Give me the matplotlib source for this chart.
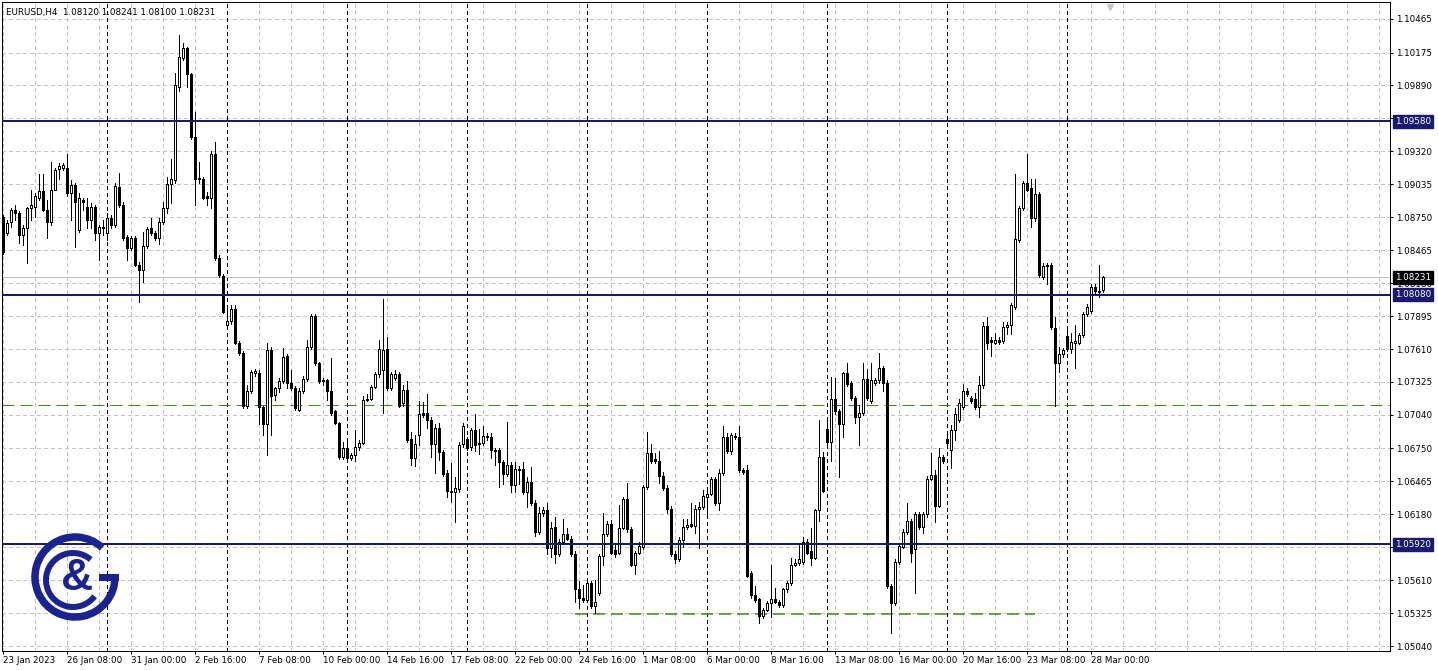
import numpy as np
import pandas as pd
import matplotlib
matplotlib.use("Agg")
import matplotlib.pyplot as plt
from matplotlib.patches import Arc, Rectangle
from matplotlib.transforms import blended_transform_factory

plt.rcParams['font.family'] = ['DejaVu Sans']
plt.rcParams['lines.scale_dashes'] = False

# EURUSD H4 candles (open, high, low, close)
opens = [
    1.0875, 1.0861, 1.0871, 1.0881, 1.0879, 1.0860, 1.0866, 1.0883, 1.0884, 1.0892,
    1.0898, 1.0881, 1.0871, 1.0899, 1.0917, 1.0918, 1.0918, 1.0896, 1.0903, 1.0864,
    1.0890, 1.0884, 1.0873, 1.0884, 1.0861, 1.0867, 1.0861, 1.0874, 1.0868, 1.0901,
    1.0886, 1.0858, 1.0848, 1.0857, 1.0834, 1.0829, 1.0850, 1.0866, 1.0861, 1.0857,
    1.0871, 1.0883, 1.0904, 1.0907, 1.0988, 1.1013, 1.1021, 1.0999, 1.0944, 1.0909,
    1.0908, 1.0893, 1.0892, 1.0930, 1.0840, 1.0824, 1.0782, 1.0785, 1.0796, 1.0766,
    1.0758, 1.0712, 1.0725, 1.0740, 1.0740, 1.0711, 1.0696, 1.0760, 1.0721, 1.0727,
    1.0733, 1.0755, 1.0732, 1.0727, 1.0708, 1.0725, 1.0735, 1.0763, 1.0790, 1.0749,
    1.0734, 1.0734, 1.0725, 1.0707, 1.0697, 1.0668, 1.0675, 1.0667, 1.0669, 1.0676,
    1.0680, 1.0717, 1.0718, 1.0728, 1.0739, 1.0743, 1.0761, 1.0727, 1.0736, 1.0739,
    1.0714, 1.0726, 1.0683, 1.0667, 1.0687, 1.0706, 1.0706, 1.0700, 1.0679, 1.0693,
    1.0672, 1.0654, 1.0638, 1.0637, 1.0640, 1.0679, 1.0683, 1.0676, 1.0691, 1.0680,
    1.0680, 1.0686, 1.0685, 1.0674, 1.0674, 1.0663, 1.0653, 1.0661, 1.0643, 1.0657,
    1.0657, 1.0637, 1.0646, 1.0628, 1.0603, 1.0619, 1.0622, 1.0589, 1.0607, 1.0584,
    1.0594, 1.0601, 1.0597, 1.0584, 1.0553, 1.0546, 1.0544, 1.0559, 1.0539, 1.0550,
    1.0582, 1.0601, 1.0610, 1.0587, 1.0585, 1.0606, 1.0631, 1.0605, 1.0574, 1.0585,
    1.0590, 1.0642, 1.0671, 1.0666, 1.0664, 1.0651, 1.0641, 1.0623, 1.0584, 1.0579,
    1.0596, 1.0607, 1.0610, 1.0608, 1.0623, 1.0624, 1.0633, 1.0636, 1.0649, 1.0628,
    1.0654, 1.0685, 1.0673, 1.0686, 1.0685, 1.0656, 1.0656, 1.0567, 1.0548, 1.0545,
    1.0530, 1.0535, 1.0541, 1.0545, 1.0542, 1.0540, 1.0553, 1.0559, 1.0574, 1.0576,
    1.0577, 1.0594, 1.0586, 1.0580, 1.0622, 1.0668, 1.0692, 1.0681, 1.0718, 1.0707,
    1.0696, 1.0740, 1.0732, 1.0719, 1.0702, 1.0706, 1.0735, 1.0716, 1.0732, 1.0734,
    1.0745, 1.0732, 1.0556, 1.0541, 1.0577, 1.0590, 1.0603, 1.0612, 1.0588, 1.0618,
    1.0607, 1.0618, 1.0649, 1.0652, 1.0625, 1.0668, 1.0683, 1.0674, 1.0691, 1.0700,
    1.0711, 1.0725, 1.0719, 1.0718, 1.0711, 1.0730, 1.0781, 1.0769, 1.0766, 1.0769,
    1.0768, 1.0780, 1.0782, 1.0797, 1.0855, 1.0883, 1.0905, 1.0900, 1.0874, 1.0895,
    1.0823, 1.0834, 1.0834, 1.0779, 1.0749, 1.0757, 1.0772, 1.0761, 1.0766, 1.0766,
    1.0773, 1.0791, 1.0794, 1.0815, 1.0811, 1.08120,
]
highs = [
    1.0877, 1.0873, 1.0883, 1.0886, 1.0880, 1.0868, 1.0884, 1.0899, 1.0896, 1.0912,
    1.0912, 1.0890, 1.0923, 1.0918, 1.0922, 1.0922, 1.0930, 1.0907, 1.0905, 1.0896,
    1.0892, 1.0892, 1.0887, 1.0886, 1.0868, 1.0873, 1.0879, 1.0877, 1.0905, 1.0913,
    1.0888, 1.0860, 1.0859, 1.0859, 1.0836, 1.0862, 1.0867, 1.0874, 1.0863, 1.0874,
    1.0888, 1.0910, 1.0925, 1.1000, 1.1033, 1.1026, 1.1022, 1.1000, 1.0966, 1.0923,
    1.0910, 1.0897, 1.0932, 1.0940, 1.0842, 1.0826, 1.0799, 1.0799, 1.0799, 1.0768,
    1.0759, 1.0730, 1.0743, 1.0744, 1.0743, 1.0712, 1.0766, 1.0763, 1.0728, 1.0736,
    1.0762, 1.0757, 1.0743, 1.0729, 1.0727, 1.0738, 1.0769, 1.0791, 1.0791, 1.0750,
    1.0736, 1.0735, 1.0753, 1.0708, 1.0698, 1.0681, 1.0681, 1.0671, 1.0691, 1.0682,
    1.0720, 1.0722, 1.0730, 1.0741, 1.0769, 1.0804, 1.0771, 1.0741, 1.0743, 1.0741,
    1.0730, 1.0733, 1.0689, 1.0687, 1.0716, 1.0715, 1.0722, 1.0702, 1.0696, 1.0697,
    1.0674, 1.0656, 1.0662, 1.0650, 1.0681, 1.0697, 1.0685, 1.0693, 1.0705, 1.0692,
    1.0694, 1.0688, 1.0688, 1.0675, 1.0675, 1.0665, 1.0698, 1.0663, 1.0663, 1.0660,
    1.0663, 1.0650, 1.0659, 1.0630, 1.0624, 1.0624, 1.0628, 1.0611, 1.0616, 1.0597,
    1.0614, 1.0606, 1.0599, 1.0586, 1.0560, 1.0557, 1.0561, 1.0560, 1.0561, 1.0584,
    1.0619, 1.0612, 1.0613, 1.0592, 1.0626, 1.0633, 1.0645, 1.0607, 1.0586, 1.0594,
    1.0643, 1.0689, 1.0679, 1.0671, 1.0673, 1.0655, 1.0643, 1.0625, 1.0586, 1.0598,
    1.0614, 1.0614, 1.0628, 1.0626, 1.0629, 1.0639, 1.0642, 1.0650, 1.0650, 1.0657,
    1.0694, 1.0688, 1.0688, 1.0688, 1.0694, 1.0658, 1.0661, 1.0569, 1.0556, 1.0546,
    1.0537, 1.0543, 1.0574, 1.0554, 1.0544, 1.0554, 1.0560, 1.0580, 1.0579, 1.0592,
    1.0598, 1.0597, 1.0606, 1.0623, 1.0700, 1.0672, 1.0701, 1.0737, 1.0736, 1.0709,
    1.0741, 1.0749, 1.0733, 1.0720, 1.0713, 1.0749, 1.0744, 1.0749, 1.0736, 1.0758,
    1.0746, 1.0734, 1.0558, 1.0579, 1.0593, 1.0605, 1.0628, 1.0614, 1.0620, 1.0620,
    1.0620, 1.0651, 1.0671, 1.0656, 1.0675, 1.0669, 1.0687, 1.0695, 1.0710, 1.0718,
    1.0731, 1.0727, 1.0720, 1.0723, 1.0738, 1.0784, 1.0789, 1.0771, 1.0775, 1.0771,
    1.0784, 1.0784, 1.0801, 1.0912, 1.0885, 1.0906, 1.0930, 1.0908, 1.0908, 1.0897,
    1.0835, 1.0835, 1.0835, 1.0789, 1.0763, 1.0762, 1.0780, 1.0775, 1.0782, 1.0775,
    1.0793, 1.0800, 1.0817, 1.0817, 1.0834, 1.08241,
]
lows = [
    1.0843, 1.0860, 1.0867, 1.0873, 1.0853, 1.0851, 1.0835, 1.0873, 1.0875, 1.0890,
    1.0880, 1.0857, 1.0868, 1.0899, 1.0908, 1.0916, 1.0893, 1.0873, 1.0849, 1.0862,
    1.0881, 1.0866, 1.0866, 1.0855, 1.0838, 1.0860, 1.0855, 1.0866, 1.0867, 1.0884,
    1.0855, 1.0838, 1.0847, 1.0833, 1.0802, 1.0819, 1.0848, 1.0860, 1.0855, 1.0852,
    1.0869, 1.0879, 1.0887, 1.0905, 1.0984, 1.1011, 1.0988, 1.0943, 1.0886, 1.0905,
    1.0891, 1.0886, 1.0883, 1.0838, 1.0823, 1.0792, 1.0780, 1.0783, 1.0765, 1.0756,
    1.0710, 1.0710, 1.0723, 1.0738, 1.0696, 1.0687, 1.0669, 1.0687, 1.0717, 1.0724,
    1.0732, 1.0727, 1.0726, 1.0708, 1.0707, 1.0723, 1.0733, 1.0761, 1.0747, 1.0732,
    1.0730, 1.0717, 1.0704, 1.0696, 1.0666, 1.0666, 1.0663, 1.0665, 1.0664, 1.0674,
    1.0679, 1.0716, 1.0717, 1.0727, 1.0737, 1.0706, 1.0726, 1.0726, 1.0734, 1.0711,
    1.0712, 1.0681, 1.0661, 1.0660, 1.0678, 1.0702, 1.0693, 1.0668, 1.0654, 1.0665,
    1.0651, 1.0633, 1.0629, 1.0611, 1.0637, 1.0676, 1.0674, 1.0674, 1.0673, 1.0670,
    1.0678, 1.0682, 1.0667, 1.0661, 1.0642, 1.0644, 1.0651, 1.0637, 1.0637, 1.0644,
    1.0636, 1.0624, 1.0626, 1.0599, 1.0601, 1.0617, 1.0584, 1.0581, 1.0576, 1.0582,
    1.0592, 1.0596, 1.0582, 1.0542, 1.0537, 1.0542, 1.0542, 1.0537, 1.0533, 1.0548,
    1.0574, 1.0599, 1.0584, 1.0581, 1.0584, 1.0605, 1.0603, 1.0573, 1.0566, 1.0584,
    1.0588, 1.0640, 1.0662, 1.0662, 1.0645, 1.0639, 1.0619, 1.0582, 1.0576, 1.0578,
    1.0590, 1.0605, 1.0607, 1.0602, 1.0589, 1.0623, 1.0618, 1.0635, 1.0626, 1.0622,
    1.0652, 1.0671, 1.0670, 1.0683, 1.0655, 1.0653, 1.0564, 1.0546, 1.0542, 1.0524,
    1.0528, 1.0534, 1.0529, 1.0541, 1.0538, 1.0538, 1.0551, 1.0557, 1.0573, 1.0574,
    1.0575, 1.0584, 1.0574, 1.0579, 1.0612, 1.0637, 1.0676, 1.0664, 1.0705, 1.0650,
    1.0685, 1.0729, 1.0717, 1.0697, 1.0678, 1.0704, 1.0717, 1.0714, 1.0730, 1.0732,
    1.0725, 1.0554, 1.0515, 1.0540, 1.0575, 1.0589, 1.0601, 1.0577, 1.0550, 1.0605,
    1.0602, 1.0616, 1.0648, 1.0611, 1.0624, 1.0662, 1.0678, 1.0658, 1.0682, 1.0698,
    1.0709, 1.0720, 1.0714, 1.0709, 1.0702, 1.0727, 1.0761, 1.0755, 1.0765, 1.0765,
    1.0766, 1.0774, 1.0774, 1.0796, 1.0854, 1.0881, 1.0898, 1.0867, 1.0872, 1.0823,
    1.0822, 1.0817, 1.0778, 1.0712, 1.0741, 1.0754, 1.0759, 1.0758, 1.0745, 1.0765,
    1.0771, 1.0790, 1.0792, 1.0808, 1.0806, 1.08100,
]
closes = [
    1.0845, 1.0870, 1.0881, 1.0879, 1.0860, 1.0866, 1.0883, 1.0886, 1.0893, 1.0898,
    1.0881, 1.0871, 1.0899, 1.0916, 1.0919, 1.0920, 1.0896, 1.0903, 1.0888, 1.0892,
    1.0888, 1.0873, 1.0884, 1.0861, 1.0867, 1.0866, 1.0874, 1.0868, 1.0902, 1.0886,
    1.0857, 1.0848, 1.0857, 1.0834, 1.0829, 1.0850, 1.0865, 1.0861, 1.0857, 1.0871,
    1.0883, 1.0904, 1.0908, 1.0989, 1.1014, 1.1021, 1.0999, 1.0944, 1.0908, 1.0908,
    1.0892, 1.0892, 1.0930, 1.0840, 1.0825, 1.0793, 1.0785, 1.0796, 1.0766, 1.0758,
    1.0712, 1.0725, 1.0741, 1.0742, 1.0711, 1.0696, 1.0760, 1.0720, 1.0727, 1.0733,
    1.0754, 1.0732, 1.0727, 1.0710, 1.0725, 1.0735, 1.0763, 1.0790, 1.0749, 1.0733,
    1.0733, 1.0725, 1.0706, 1.0697, 1.0668, 1.0675, 1.0667, 1.0669, 1.0676, 1.0680,
    1.0717, 1.0718, 1.0728, 1.0739, 1.0761, 1.0760, 1.0727, 1.0739, 1.0739, 1.0712,
    1.0726, 1.0682, 1.0667, 1.0679, 1.0705, 1.0704, 1.0700, 1.0679, 1.0693, 1.0672,
    1.0653, 1.0638, 1.0637, 1.0641, 1.0678, 1.0694, 1.0675, 1.0691, 1.0678, 1.0679,
    1.0686, 1.0685, 1.0674, 1.0673, 1.0663, 1.0653, 1.0661, 1.0643, 1.0657, 1.0656,
    1.0637, 1.0646, 1.0628, 1.0603, 1.0619, 1.0622, 1.0589, 1.0606, 1.0584, 1.0594,
    1.0601, 1.0597, 1.0584, 1.0553, 1.0546, 1.0544, 1.0559, 1.0539, 1.0542, 1.0582,
    1.0601, 1.0610, 1.0585, 1.0584, 1.0606, 1.0631, 1.0605, 1.0574, 1.0585, 1.0591,
    1.0642, 1.0671, 1.0664, 1.0664, 1.0651, 1.0641, 1.0623, 1.0584, 1.0579, 1.0596,
    1.0607, 1.0609, 1.0608, 1.0623, 1.0624, 1.0634, 1.0636, 1.0649, 1.0628, 1.0654,
    1.0685, 1.0673, 1.0687, 1.0685, 1.0656, 1.0655, 1.0565, 1.0548, 1.0544, 1.0530,
    1.0535, 1.0541, 1.0545, 1.0542, 1.0540, 1.0553, 1.0559, 1.0574, 1.0576, 1.0579,
    1.0594, 1.0585, 1.0580, 1.0622, 1.0668, 1.0638, 1.0681, 1.0718, 1.0707, 1.0696,
    1.0740, 1.0731, 1.0719, 1.0702, 1.0706, 1.0735, 1.0719, 1.0734, 1.0734, 1.0745,
    1.0732, 1.0556, 1.0541, 1.0577, 1.0591, 1.0603, 1.0612, 1.0585, 1.0618, 1.0607,
    1.0618, 1.0649, 1.0652, 1.0625, 1.0668, 1.0664, 1.0680, 1.0691, 1.0705, 1.0714,
    1.0725, 1.0722, 1.0716, 1.0711, 1.0730, 1.0781, 1.0766, 1.0767, 1.0769, 1.0767,
    1.0780, 1.0782, 1.0799, 1.0856, 1.0883, 1.0905, 1.0899, 1.0874, 1.0895, 1.0825,
    1.0833, 1.0833, 1.0780, 1.0749, 1.0757, 1.0760, 1.0761, 1.0767, 1.0768, 1.0773,
    1.0791, 1.0797, 1.0815, 1.0811, 1.0810, 1.08231,
]

symbol = "EURUSD,H4"
price_ticks = [1.10465, 1.10175, 1.09890, 1.09605, 1.09320, 1.09035, 1.08750,
               1.08465, 1.08180, 1.07895, 1.07610, 1.07325, 1.07040, 1.06750,
               1.06465, 1.06180, 1.05895, 1.05610, 1.05325, 1.05040]
levels = [1.09580, 1.08080, 1.05920]          # navy horizontal lines
green_full = 1.0713                            # green dashed, whole width
green_low = 1.0532                             # green dashed, partial
green_low_from, green_low_to = "2023-02-24 12:00", "2023-03-23 16:00"

times = pd.date_range("2023-01-23 16:00", "2023-03-28 12:00", freq="4h")
times = times[times.dayofweek < 5]

W, H = 1438, 670
PX = 0.72  # one pixel in points at dpi 100
NAVY = "#1a1a72"
GREEN = "#3f8a0e"
GRID = "#c4c4c4"
FS = 6.3

fig = plt.figure(figsize=(W / 100, H / 100), dpi=100)
ax = fig.add_axes([2 / W, 19 / H, 1388 / W, 649 / H])
ax.set_xlim(-0.25, 346.75)
ax.set_ylim(1.04998, 1.10612)

# grid
for p in price_ticks:
    ax.axhline(p, color=GRID, lw=PX, ls=(0, (3 * PX, 3 * PX)), antialiased=False, zorder=1)
for i in range(0, 347, 8):
    ax.axvline(i, color=GRID, lw=PX, ls=(0, (3 * PX, 3 * PX)), antialiased=False, zorder=1)

# weekly separators
x = np.arange(len(closes))
mondays = x[(times.dayofweek == 0) & (times.hour == 0)]
for i in mondays:
    ax.axvline(i, color="black", lw=PX, ls=(0, (4 * PX, 3 * PX)), antialiased=False, zorder=2)

# level lines
ax.axhline(closes[-1], color="#c0c0c0", lw=PX, zorder=2)
for lv in levels:
    ax.axhline(lv, color=NAVY, lw=2 * PX, zorder=5)
ax.axhline(green_full, color=GREEN, lw=PX, ls=(0, (12 * PX, 6 * PX)), zorder=2)
g0 = times.get_loc(pd.Timestamp(green_low_from))
g1 = times.get_loc(pd.Timestamp(green_low_to))
ax.hlines(green_low, g0, g1, color=GREEN, lw=1.5 * PX, ls=(0, (12 * PX, 6 * PX)), zorder=2)

# candles
o, h, l, c = map(np.array, (opens, highs, lows, closes))
up = c >= o
ax.vlines(x, l, h, color="black", lw=PX, antialiased=False, zorder=3)
bottom = np.minimum(o, c)
height = np.abs(c - o)
ax.bar(x[up], height[up], bottom=bottom[up], width=0.6, facecolor="white",
       edgecolor="black", linewidth=PX, antialiased=False, zorder=4)
ax.bar(x[~up], height[~up], bottom=bottom[~up], width=0.6, facecolor="black",
       edgecolor="black", linewidth=PX, antialiased=False, zorder=4)

# axes and ticks
for s in ax.spines.values():
    s.set_linewidth(PX)
    s.set_color("black")
ax.yaxis.tick_right()
ax.set_yticks(price_ticks)
ax.set_yticklabels([f"{p:.5f}" for p in price_ticks])
tick_idx = list(range(0, len(times), 16))
ax.set_xticks(tick_idx)
labels = []
for k, i in enumerate(tick_idx):
    t = times[i]
    labels.append(f"{t.day} {t:%b %Y}" if k == 0 else f"{t.day} {t:%b %H:%M}")
ax.set_xticklabels(labels)
for lbl in ax.get_xticklabels():
    lbl.set_horizontalalignment("left")
ax.tick_params(axis="both", length=3 * PX, width=PX, labelsize=FS, colors="black")
ax.tick_params(axis="y", pad=2.2)
ax.tick_params(axis="x", pad=1.5)

# price boxes on the right scale
tr = blended_transform_factory(ax.transAxes, ax.transData)
for lv in levels:
    ax.text(1 + 5 / 1388, lv, f"{lv:.5f}", transform=tr, ha="left", va="center",
            fontsize=FS, color="white", zorder=10, clip_on=False,
            bbox=dict(boxstyle="square,pad=0.24", fc=NAVY, ec=NAVY))
ax.text(1 + 5 / 1388, closes[-1], f"{closes[-1]:.5f}", transform=tr, ha="left",
        va="center", fontsize=FS, color="white", zorder=10, clip_on=False,
        bbox=dict(boxstyle="square,pad=0.24", fc="black", ec="black"))

# header
fig.text(6 / W, 1 - 12.5 / H,
         f"{symbol}  {opens[-1]:.5f} {highs[-1]:.5f} {lows[-1]:.5f} {closes[-1]:.5f}",
         fontsize=FS, va="center", ha="left", color="black")

# chart shift marker
ax.plot([(1110 - 2) / 1388], [1 - 5 / 649], marker="v", ms=5, color="#c8c8c8",
        transform=ax.transAxes, clip_on=False, zorder=6)

# logo
LOGO = "#1b2390"
lax = fig.add_axes([20 / W, 40 / H, 110 / W, 110 / H])
lax.set_xlim(20, 130)
lax.set_ylim(40, 150)
lax.axis("off")
lax.patch.set_alpha(0)
lax.add_patch(Arc((75, 93), 80, 80, theta1=47, theta2=360, lw=7.5 * PX, color=LOGO))
lax.add_patch(Rectangle((99, 89), 20, 7.5, color=LOGO, lw=0))
lax.add_patch(Arc((73, 90), 54, 54, theta1=49, theta2=323, lw=6 * PX, color=LOGO))
lax.text(77, 91, "&", fontsize=32, fontweight="bold", color=LOGO, ha="center",
         va="center", family="Liberation Sans")

fig.savefig("out.png", dpi=100)
